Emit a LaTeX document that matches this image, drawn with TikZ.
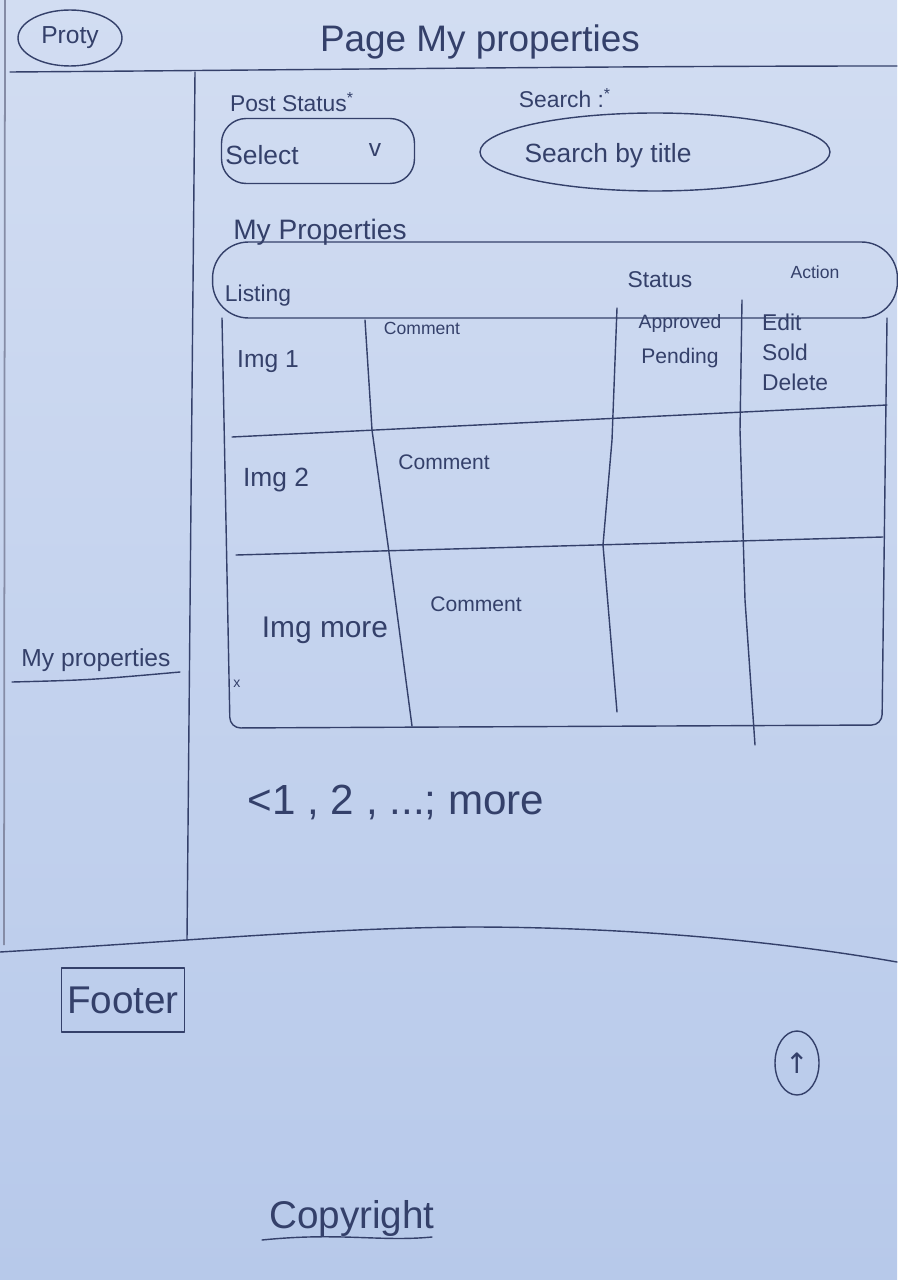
\documentclass[tikz,border=0pt]{standalone}
\usepackage{fontspec}
\setmainfont{Liberation Sans}
\newfontfamily\symfont{DejaVu Sans}
\usetikzlibrary{shapes.geometric}
\definecolor{inkc}{HTML}{34406A}
\definecolor{paperT}{HTML}{D2DDF2}
\definecolor{paperB}{HTML}{B7C9EA}
\newcommand{\fsz}[1]{\fontsize{#1}{#1}\selectfont}
\begin{document}
\begin{tikzpicture}[x=0.02cm,y=-0.02cm,
  ink/.style={draw=inkc, line width=0.8pt, line cap=round, line join=round},
  lbl/.style={text=inkc, inner sep=1pt, anchor=center},
  oval/.style={ink, ellipse, inner sep=0pt},
  boxed/.style={ink, rectangle, inner sep=2pt}]
% paper
\fill[top color=paperT, bottom color=paperB] (0,0) rectangle (897,1280);
\useasboundingbox (0,0) rectangle (897,1280);
\draw[draw=inkc!60, line width=1pt] (5,0) -- (4,945);

% header
\node[oval, minimum width=2.08cm, minimum height=1.12cm] (logo) at (70,38) {};
\node[lbl, font=\fsz{14}] (logotxt) at (logo.center) {Proty};
\node[lbl, font=\fsz{21}] (title) at (480,42) {Page My properties};
\draw[ink] (10,72) .. controls (300,70) and (600,66) .. (897,66);

% sidebar
\draw[ink] (195,72) -- (191,500) -- (187,940);
\node[lbl, font=\fsz{14}] (side) at (96,660) {My properties};
\draw[ink] (12,682) .. controls (90,680) .. (180,672);

% filters
\node[lbl, font=\fsz{13}] (poststatus) at (292,102) {Post Status\textsuperscript{*}};
\node[lbl, font=\fsz{13}] (searchlbl) at (565,98) {Search :\textsuperscript{*}};
\node[boxed, rounded corners=14pt, minimum width=3.86cm, minimum height=1.30cm] (select) at (318,151) {};
\node[lbl, font=\fsz{15}] (selecttxt) at (262,155) {Select};
\node[lbl, font=\fsz{14}] (caret) at (375,150) {v};
\node[oval, minimum width=7.0cm, minimum height=1.56cm] (search) at (655,152) {};
\node[lbl, font=\fsz{15}] (searchtxt) at (608,156) {Search by title};

% table
\node[lbl, font=\fsz{16}] (tabletitle) at (320,232) {My Properties};
\node[boxed, rounded corners=0.72cm, minimum width=13.7cm, minimum height=1.52cm] (band) at (555,280) {};
\node[lbl, font=\fsz{13}] (hlisting) at (258,296) {Listing};
\node[lbl, font=\fsz{13}] (hstatus) at (660,280) {Status};
\node[lbl, font=\fsz{10}] (haction) at (815,272) {Action};

\draw[ink, rounded corners=6pt] (222,318) -- (230,728) -- (882,725) -- (887,318);
\draw[ink] (232,437) -- (887,405);
\draw[ink] (236,555) -- (883,537);
\draw[ink] (365,320) -- (372,430) -- (388,545) -- (412,726);
\draw[ink] (617,308) -- (612,440) -- (603,545) -- (617,712);
\draw[ink] (742,300) -- (740,430) -- (745,600) -- (755,745);

% row 1
\node[lbl, font=\fsz{14}] (img1) at (268,362) {Img 1};
\node[lbl, font=\fsz{10}] (c1) at (422,328) {Comment};
\node[lbl, font=\fsz{11}] (approved) at (680,324) {Approved};
\node[lbl, font=\fsz{12}] (pending) at (680,358) {Pending};
\node[lbl, font=\fsz{13}, anchor=west] (edit) at (760,322) {Edit};
\node[lbl, font=\fsz{13}, anchor=west] (sold) at (760,352) {Sold};
\node[lbl, font=\fsz{13}, anchor=west] (delete) at (760,382) {Delete};

% row 2
\node[lbl, font=\fsz{15}] (img2) at (276,480) {Img 2};
\node[lbl, font=\fsz{12}] (c2) at (444,462) {Comment};

% row 3
\node[lbl, font=\fsz{17}] (img3) at (325,630) {Img more};
\node[lbl, font=\fsz{12}] (c3) at (476,604) {Comment};
\node[lbl, font=\fsz{8}] (mark) at (237,684) {x};

% pagination
\node[lbl, font=\fsz{24}] (pager) at (396,802) {<1 , 2 , ...; more};

% footer
\draw[ink] (0,952) .. controls (200,940) and (330,928) .. (470,927) .. controls (650,927) and (800,945) .. (897,962);
\node[boxed, minimum width=2.46cm, minimum height=1.28cm] (footer) at (123,1000) {};
\node[lbl, font=\fsz{22}] (footertxt) at (footer.center) {Footer};
\node[oval, minimum width=0.88cm, minimum height=1.28cm] (totop) at (797,1063) {};
\node[lbl, font=\symfont\fsz{16}] (arrowup) at (totop.center) {↑};
\node[lbl, font=\fsz{22}] (copyright) at (352,1218) {Copyright};
\draw[ink] (262,1240) .. controls (340,1232) and (380,1242) .. (432,1237);
\end{tikzpicture}
\end{document}
